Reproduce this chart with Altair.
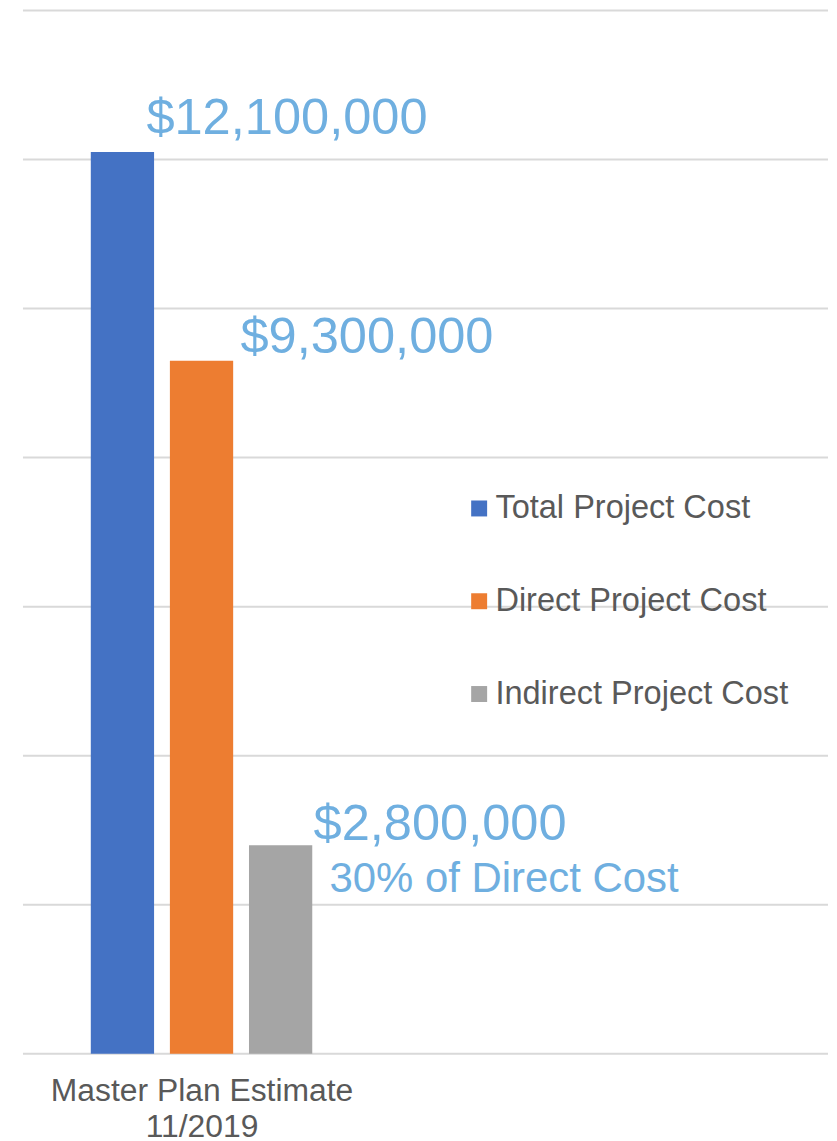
import altair as alt
import pandas as pd

# ---- data ----
categories = ["Total Project Cost", "Direct Project Cost", "Indirect Project Cost"]
values = [12100000, 9300000, 2800000]
value_labels = ["$12,100,000", "$9,300,000", "$2,800,000"]
notes = ["", "", "30% of Direct Cost"]
colors = ["#4472C4", "#ED7D31", "#A5A5A5"]
group_label = ["Master Plan Estimate", "11/2019"]
grid_values = [0, 2000000, 4000000, 6000000, 8000000, 10000000, 12000000, 14000000]

df = pd.DataFrame({"series": categories, "value": values,
                   "label": value_labels, "note": notes})
grid_df = pd.DataFrame({"value": grid_values})

FONT = "Liberation Sans"
LABEL_BLUE = "#6FAFE0"
GREY_TEXT = "#595959"

x_enc = alt.X(
    "series:N",
    sort=categories,
    scale=alt.Scale(domain=categories, range=[68, 290], paddingInner=0.2, paddingOuter=0),
    axis=alt.Axis(labels=False, ticks=False, domain=False, grid=False,
                  title=group_label, titleX=179, titleY=47, titleAlign="center",
                  titleBaseline="alphabetic", titleFontSize=31.9, titleFont=FONT,
                  titleFontWeight="normal", titleColor=GREY_TEXT, titleLineHeight=36,
                  titleAngle=0),
)
y_scale = alt.Scale(domain=[0, 14000000], nice=False, zero=True)
y_enc = alt.Y(
    "value:Q",
    title=None,
    scale=y_scale,
    axis=alt.Axis(labels=False, ticks=False, domain=False, grid=False),
)

grid = alt.Chart(grid_df).mark_rule(color="#D9D9D9", strokeWidth=2).encode(y=y_enc)

base = alt.Chart(df)

bars = base.mark_bar().encode(
    x=x_enc,
    y=y_enc,
    color=alt.Color(
        "series:N",
        sort=categories,
        scale=alt.Scale(domain=categories, range=colors),
        legend=alt.Legend(
            orient="none", legendX=441, legendY=483, title=None, direction="vertical",
            symbolType="square", symbolSize=256, symbolStrokeWidth=0,
            labelFontSize=32.6, labelFont=FONT, labelColor=GREY_TEXT, labelOffset=0,
            rowPadding=60, padding=0, labelLimit=500,
        ),
    ),
)

label_offsets = {
    "Total Project Cost": (24, -18),
    "Direct Project Cost": (39, -8),
    "Indirect Project Cost": (33, -5),
}

layers = [grid, bars]
for cat in categories:
    dx, dy = label_offsets[cat]
    layers.append(
        base.transform_filter(alt.datum.series == cat)
        .mark_text(align="left", baseline="alphabetic", dx=dx, dy=dy,
                   fontSize=50.7, font=FONT, color=LABEL_BLUE)
        .encode(x=x_enc, y=y_enc, text="label:N")
    )

note_layer = (
    base.transform_filter(alt.datum.note != "")
    .mark_text(align="left", baseline="alphabetic", dx=49, dy=47,
               fontSize=42, font=FONT, color=LABEL_BLUE)
    .encode(x=x_enc, y=y_enc, text="note:N")
)
layers.append(note_layer)

chart = (
    alt.layer(*layers)
    .properties(width=807, height=1046,
                padding={"left": 14, "top": 0, "right": 0, "bottom": 0},
                background="white")
    .configure_view(strokeWidth=0)
)

chart.save("out.html", embed_options={"renderer": "svg", "actions": False})
